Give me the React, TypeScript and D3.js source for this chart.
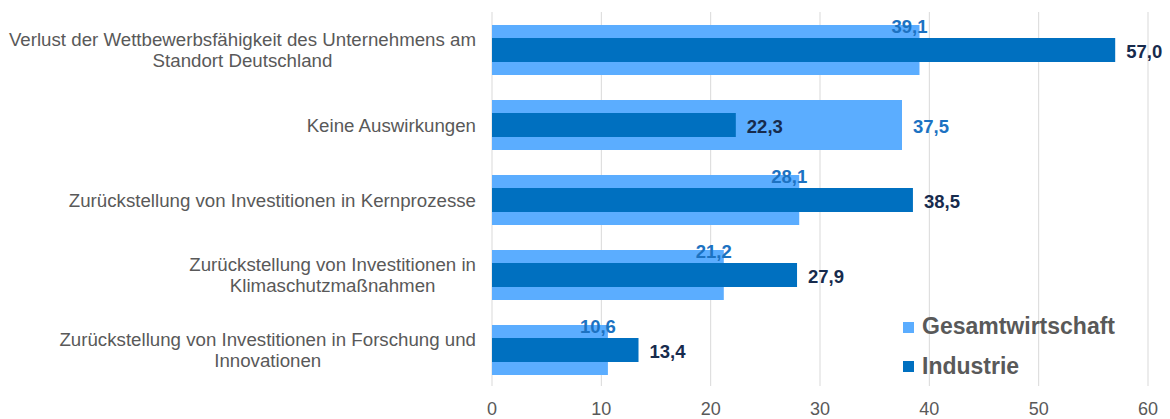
import React from "react";
import * as d3 from "d3";

const categories: string[][] = [
  ["Verlust der Wettbewerbsfähigkeit des Unternehmens am", "Standort Deutschland"],
  ["Keine Auswirkungen"],
  ["Zurückstellung von Investitionen in Kernprozesse"],
  ["Zurückstellung von Investitionen in", "Klimaschutzmaßnahmen"],
  ["Zurückstellung von Investitionen in Forschung und", "Innovationen"],
];
const gesamtwirtschaft = [39.1, 37.5, 28.1, 21.2, 10.6];
const industrie = [57.0, 22.3, 38.5, 27.9, 13.4];
const xTicks = [0, 10, 20, 30, 40, 50, 60];
const seriesNames = ["Gesamtwirtschaft", "Industrie"];

const W = 1170;
const H = 419;
const FONT = "'Liberation Sans', Arial, Helvetica, sans-serif";
const LIGHT = "#5badff";
const DARK = "#0070c0";
const LIGHT_TXT = "#1c72c2";
const DARK_TXT = "#172b4d";
const GRAY = "#595959";
const GRID = "#d9d9d9";

const fmt = (v: number) => v.toFixed(1).replace(".", ",");

let ctx: CanvasRenderingContext2D | null = null;
function measure(text: string, font: string) {
  if (!ctx) ctx = document.createElement("canvas").getContext("2d");
  if (!ctx) return text.length * 9;
  ctx.font = font;
  return ctx.measureText(text).width;
}

export default function App() {
  const x = d3.scaleLinear().domain([0, 60]).range([492, 1148]);
  const y = d3
    .scaleBand<number>()
    .domain(d3.range(categories.length))
    .range([12.5, 387.5])
    .padding(0);
  const bw = y.bandwidth();
  const lightH = bw * (2 / 3);
  const darkH = 24;
  const catSize = 18.7;
  const catFont = `${catSize}px ${FONT}`;

  return (
    <svg
      width={W}
      height={H}
      style={{ position: "absolute", left: 0, top: 0, background: "#fff" }}
      fontFamily={FONT}
    >
      {xTicks.map((t) => (
        <line key={"g" + t} x1={x(t)} x2={x(t)} y1={12} y2={386} stroke={GRID} strokeWidth={1} />
      ))}
      {xTicks.map((t) => (
        <text key={"t" + t} x={x(t)} y={415} textAnchor="middle" fontSize={18} fill={GRAY}>
          {t}
        </text>
      ))}
      {categories.map((_, i) => {
        const cy = (y(i) as number) + bw / 2;
        const g = gesamtwirtschaft[i];
        const ind = industrie[i];
        const lightInside = ind > g;
        return (
          <g key={"b" + i}>
            <rect x={x(0)} y={cy - lightH / 2} width={x(g) - x(0)} height={lightH} fill={LIGHT} />
            <rect x={x(0)} y={cy - darkH / 2} width={x(ind) - x(0)} height={darkH} fill={DARK} />
            <text x={x(ind) + 11} y={cy + 7.5} fontSize={18.5} fontWeight="bold" fill={DARK_TXT}>
              {fmt(ind)}
            </text>
            {lightInside ? (
              <text
                x={x(g) - 10}
                y={cy - lightH / 2 + 8}
                textAnchor="middle"
                fontSize={18.5}
                fontWeight="bold"
                fill={LIGHT_TXT}
              >
                {fmt(g)}
              </text>
            ) : (
              <text x={x(g) + 11} y={cy + 7.5} fontSize={18.5} fontWeight="bold" fill={LIGHT_TXT}>
                {fmt(g)}
              </text>
            )}
          </g>
        );
      })}
      {categories.map((lines, i) => {
        const cy = (y(i) as number) + bw / 2;
        const right = 476;
        const maxW = Math.max(...lines.map((l) => measure(l, catFont)));
        const cx = right - maxW / 2;
        const n = lines.length;
        const lh = 21;
        return (
          <g key={"c" + i}>
            {lines.map((l, j) => (
              <text
                key={j}
                x={n === 1 ? right : cx}
                y={cy + (j - (n - 1) / 2) * lh + 6.5}
                textAnchor={n === 1 ? "end" : "middle"}
                fontSize={catSize}
                fill={GRAY}
              >
                {l}
              </text>
            ))}
          </g>
        );
      })}
      {seriesNames.map((s, i) => (
        <g key={"l" + i}>
          <rect x={903} y={322 + i * 39} width={11} height={11} fill={i === 0 ? LIGHT : DARK} />
          <text x={922} y={334 + i * 40} fontSize={23} fontWeight="bold" fill={GRAY}>
            {s}
          </text>
        </g>
      ))}
    </svg>
  );
}
